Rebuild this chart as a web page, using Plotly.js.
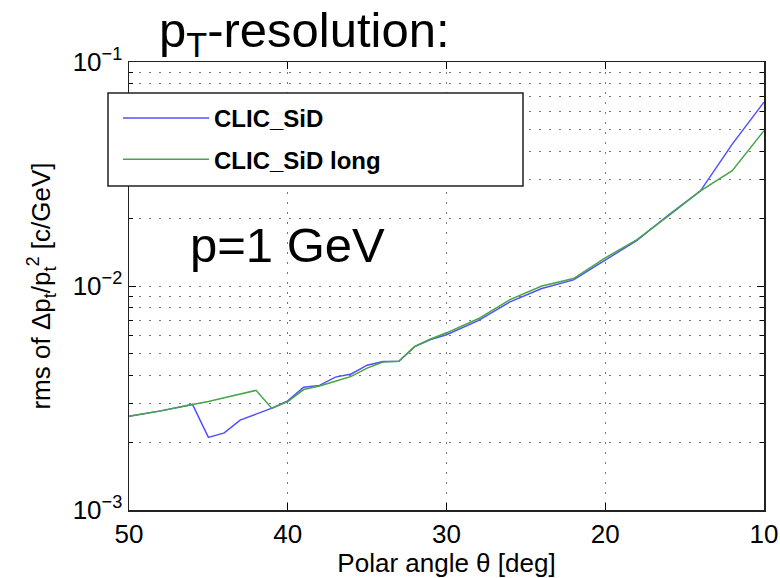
<!DOCTYPE html>
<html>
<head>
<meta charset="utf-8">
<script src="https://cdn.plot.ly/plotly-3.0.1.min.js"></script>
<style>html,body{margin:0;padding:0;background:#fff;}#chart{width:780px;height:578px;}</style>
</head>
<body>
<div id="chart"></div>
<script>
// Polar angle theta [deg]
const angles = [50, 48, 46, 45, 44, 43, 42, 41, 40, 39, 38, 37, 36, 35, 34, 33, 32, 31, 30, 28, 26, 24, 22, 20, 18, 16, 14, 12, 10];
// rms of delta pt / pt^2 [c/GeV]
const clicSiD = [0.00262, 0.00277, 0.00296, 0.00211, 0.00221, 0.00252, 0.00268, 0.00285, 0.00307, 0.00353, 0.00360, 0.00392, 0.00405, 0.00443, 0.00460, 0.00461, 0.00536, 0.00577, 0.00606, 0.00700, 0.00850, 0.00975, 0.01065, 0.01310, 0.01600, 0.02080, 0.02660, 0.04300, 0.06620];
const clicSiDLong = [0.00262, 0.00277, 0.00296, 0.00305, 0.00317, 0.00329, 0.00342, 0.00284, 0.00305, 0.00345, 0.00358, 0.00376, 0.00395, 0.00430, 0.00458, 0.00461, 0.00538, 0.00580, 0.00618, 0.00714, 0.00870, 0.01000, 0.01080, 0.01335, 0.01610, 0.02060, 0.02660, 0.03270, 0.04940];
const seriesNames = ["CLIC_SiD", "CLIC_SiD long"];
const xTicks = [50, 40, 30, 20, 10];
const yTicks = [0.001, 0.01, 0.1];
const yTickText = ["10<sup>−3</sup>", "10<sup>−2</sup>", "10<sup>−1</sup>"];

const minorY = [];
for (let e = -3; e < -1; e++) for (let m = 2; m <= 9; m++) minorY.push(m * Math.pow(10, e));

const FONT = "Liberation Sans, Arial, Helvetica, sans-serif";
const gridDash = "2px,8px";

const traces = [
  {x: angles, y: clicSiD, type: "scatter", mode: "lines", name: seriesNames[0], legendgroup: "a",
   line: {color: "rgb(80,80,255)", width: 1.5}},
  {x: angles, y: clicSiDLong, type: "scatter", mode: "lines", name: seriesNames[1], legendgroup: "b",
   line: {color: "rgb(70,165,70)", width: 1.5}}
];

const W = 780, H = 578, L = 129, R = 16, T = 62, B = 68;
const pw = W - L - R, ph = H - T - B;
const px = v => (v - L) / pw;
const py = v => 1 - (v - T) / ph;

const layout = {
  width: W, height: H,
  margin: {l: L, r: R, t: T, b: B, pad: 0},
  paper_bgcolor: "#fff", plot_bgcolor: "#fff",
  font: {family: FONT, color: "#000"},
  showlegend: true,
  legend: {
    x: px(118), y: py(96), xanchor: "left", yanchor: "top",
    bgcolor: "rgba(0,0,0,0)", borderwidth: 0,
    font: {family: FONT, size: 24, color: "#000", weight: "bold"},
    traceorder: "grouped", tracegroupgap: 7, itemwidth: 86
  },
  xaxis: {
    range: [50, 10], tickvals: xTicks, ticktext: xTicks.map(String),
    ticks: "inside", ticklen: 7, tickwidth: 1, tickcolor: "#000",
    showline: true, linecolor: "#222", linewidth: 1.5, mirror: "ticks",
    showgrid: true, gridcolor: "#777", gridwidth: 1, griddash: gridDash,
    zeroline: false,
    tickfont: {family: FONT, size: 26, color: "#000"},
    title: {text: "Polar angle θ [deg]", font: {family: FONT, size: 26, color: "#000"}, standoff: 6}
  },
  yaxis: {
    type: "log", range: [-3, -1], tickvals: yTicks, ticktext: yTickText,
    ticks: "inside", ticklen: 7, tickwidth: 1, tickcolor: "#000",
    showline: true, linecolor: "#222", linewidth: 1.5, mirror: "ticks",
    showgrid: true, gridcolor: "#777", gridwidth: 1, griddash: gridDash,
    zeroline: false,
    tickfont: {family: FONT, size: 26, color: "#000"},
    minor: {tickvals: minorY, ticks: "inside", ticklen: 4, tickcolor: "#000",
            showgrid: true, gridcolor: "#777", gridwidth: 1, griddash: gridDash},
    title: {text: "rms of Δp<sub>t</sub>/p<sub>t</sub><sup>2</sup> [c/GeV]", font: {family: FONT, size: 26, color: "#000"}, standoff: 14}
  },
  shapes: [
    {type: "rect", xref: "paper", yref: "paper", layer: "above",
     x0: px(108), x1: px(523), y0: py(186), y1: py(93),
     fillcolor: "#fff", line: {color: "#222", width: 1.5}}
  ],
  annotations: [
    {xref: "paper", yref: "paper", x: px(157), y: py(1), xanchor: "left", yanchor: "top",
     text: "p<sub>T</sub>-resolution:", showarrow: false,
     font: {family: FONT, size: 49, color: "#000"}},
    {xref: "paper", yref: "paper", x: px(188), y: py(245), xanchor: "left", yanchor: "middle",
     text: "p=1 GeV", showarrow: false,
     font: {family: FONT, size: 49, color: "#000"}}
  ]
};

Plotly.newPlot("chart", traces, layout, {displayModeBar: false, staticPlot: true});
</script>
</body>
</html>
